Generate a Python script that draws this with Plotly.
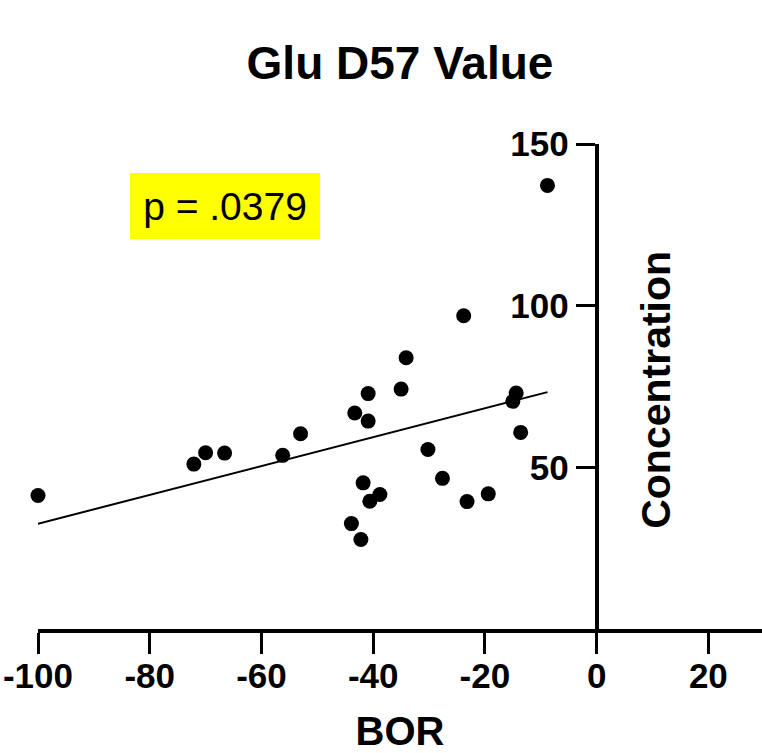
import numpy as np
import plotly.graph_objects as go

# Data
bor = [-100.0, -72.1, -70.0, -66.6, -56.2, -53.0, -43.3, -40.9, -40.9, -35.0,
       -34.1, -41.8, -38.8, -40.6, -43.9, -42.2, -30.2, -27.6, -23.8, -23.2,
       -19.4, -14.4, -15.0, -13.6, -8.8]
conc = [41.3, 51.0, 54.5, 54.4, 53.7, 60.4, 66.8, 64.3, 72.8, 74.2,
        83.9, 45.2, 41.6, 39.5, 32.6, 27.7, 55.5, 46.6, 96.9, 39.4,
        41.8, 73.0, 70.4, 60.8, 137.2]
x_ticks = [-100, -80, -60, -40, -20, 0, 20]
y_ticks = [50, 100, 150]
p_label = "p = .0379"

# linear regression from the data
slope, intercept = np.polyfit(bor, conc, 1)
fit_x = [min(bor), max(bor)]
fit_y = [slope * v + intercept for v in fit_x]

FONT = "Liberation Sans, Arial, sans-serif"
W, H = 762, 753
L, R, T, B = 38, 0, 144, 124

x_range = [-100, 29.6]
# paper position of x = 0
y_pos = (0 - x_range[0]) / (x_range[1] - x_range[0])

fig = go.Figure()
fig.add_trace(go.Scatter(x=fit_x, y=fit_y, mode="lines",
                         line=dict(color="black", width=2),
                         cliponaxis=False, showlegend=False))
fig.add_trace(go.Scatter(x=bor, y=conc, mode="markers",
                         marker=dict(color="black", size=15),
                         cliponaxis=False, showlegend=False))

fig.update_layout(
    width=W, height=H,
    margin=dict(l=L, r=R, t=T, b=B, autoexpand=False),
    paper_bgcolor="white", plot_bgcolor="white",
    font=dict(family=FONT, color="black"),
    title=dict(text="<b>Glu D57 Value</b>", x=0.5, xref="paper",
               y=1 - 63 / H, yanchor="middle",
               font=dict(size=46, family=FONT, color="black")),
    xaxis=dict(range=x_range, tickvals=x_ticks,
               ticktext=[f"<b>{v}</b>" for v in x_ticks],
               showgrid=False, zeroline=False, automargin=False,
               showline=True, linecolor="black", linewidth=4,
               ticks="outside", ticklen=21, tickwidth=3, tickcolor="black",
               ticklabelstandoff=-8,
               tickfont=dict(size=35, family=FONT, color="black"),
               title=dict(text="<b>BOR</b>", standoff=27,
                          font=dict(size=40, family=FONT, color="black"))),
    yaxis=dict(range=[0, 150], tickvals=y_ticks,
               ticktext=[f"<b>{v}</b>" for v in y_ticks],
               anchor="free", position=y_pos, automargin=False,
               showgrid=False, zeroline=False,
               showline=True, linecolor="black", linewidth=4,
               ticks="outside", ticklen=19, tickwidth=3, tickcolor="black",
               tickfont=dict(size=35, family=FONT, color="black")),
)

fig.add_annotation(text="<b>Concentration</b>", textangle=-90,
                   xref="paper", yref="paper",
                   x=(656 - L) / (W - L - R), y=(629.4 - 390) / (629.4 - T),
                   xanchor="center", yanchor="middle", showarrow=False,
                   font=dict(size=41, family=FONT, color="black"))

fig.add_annotation(text=p_label, xref="paper", yref="paper",
                   x=(224.5 - L) / (W - L - R), y=(629.4 - 205.7) / (629.4 - T),
                   xanchor="center", yanchor="middle", showarrow=False,
                   bgcolor="#FFFF00", borderpad=11, borderwidth=0,
                   width=168, height=44,
                   font=dict(size=39, family=FONT, color="black"))

fig.write_html(
    "out.html",
    config={"displayModeBar": False},
    post_script="document.body.style.margin='0';document.body.style.overflow='hidden';",
)
